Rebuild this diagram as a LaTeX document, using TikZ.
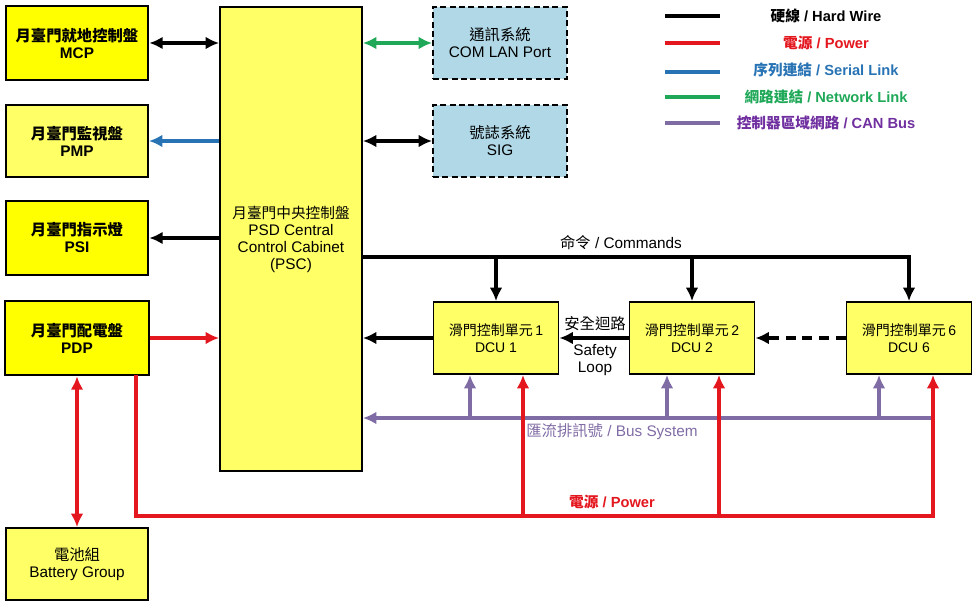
\documentclass[tikz,border=0pt]{standalone}
\usepackage{fontspec}
\setmainfont{Liberation Sans}
\newfontfamily\cjk{Noto Sans CJK TC}
\usetikzlibrary{arrows.meta, positioning}

\definecolor{pwr}{RGB}{228,22,30}
\definecolor{ser}{RGB}{40,115,180}
\definecolor{net}{RGB}{30,168,88}
\definecolor{can}{RGB}{128,108,165}
\definecolor{cantxt}{RGB}{112,48,160}
\definecolor{padyel}{RGB}{255,255,0}
\definecolor{paleyel}{RGB}{255,255,102}
\definecolor{lblue}{RGB}{176,216,230}

\newcommand{\zh}[1]{{\cjk #1}}

\begin{document}
\begin{tikzpicture}[x=0.75pt, y=-0.75pt, >={Latex[length=10pt,width=9.5pt]},
    box/.style={draw, line width=1.4pt, fill=paleyel, align=center, inner sep=1pt,
        font=\fontsize{11.5}{12.75}\selectfont},
    panel/.style={box, fill=padyel, line width=2pt, minimum width=106.5pt, minimum height=55.5pt,
        font=\bfseries\fontsize{11.5}{12.75}\selectfont},
    extbox/.style={box, fill=lblue, dash pattern=on 4.5pt off 2.5pt, minimum width=100.5pt, minimum height=54pt},
    dcubox/.style={box, minimum width=93.75pt, minimum height=54pt, font=\fontsize{10.5}{12.75}\selectfont},
    wire/.style={line width=2.3pt, ->},
    lbl/.style={align=center, inner sep=0pt, font=\fontsize{11.5}{12.75}\selectfont},
    key/.style={align=center, inner sep=0pt, font=\bfseries\fontsize{11}{12}\selectfont}
]
\useasboundingbox (0,0) rectangle (977,606);

% left column
\node(mcp)[panel] at (77,43) {\zh{月臺門就地控制盤}\\MCP};
\node(pmp)[box, minimum width=106.5pt, minimum height=54pt, font=\bfseries\fontsize{11.5}{12.75}\selectfont] at (77,141) {\zh{月臺門監視盤}\\PMP};
\node(psi)[panel] at (77,238) {\zh{月臺門指示燈}\\PSI};
\node(pdp)[panel, minimum width=108pt] at (77,338) {\zh{月臺門配電盤}\\PDP};
\node(bat)[box, minimum width=106.5pt, minimum height=54pt] at (77,564) {\zh{電池組}\\Battery Group};

% central cabinet
\node(psc)[box, minimum width=106.5pt, minimum height=348pt] at (291,239)
    {{\fontsize{11}{12.75}\selectfont\zh{月臺門中央控制盤}}\\PSD Central\\Control Cabinet\\(PSC)};

% external systems
\node(com)[extbox] at (500,43) {\zh{通訊系統}\\COM LAN Port};
\node(sig)[extbox] at (500,141) {\zh{號誌系統}\\SIG};

% door control units
\node(dcu1)[dcubox] at (496,338) {\zh{滑門控制單元}\,1\\DCU 1};
\node(dcu2)[dcubox] at (692,338) {\zh{滑門控制單元}\,2\\DCU 2};
\node(dcu6)[dcubox] at (909,338) {\zh{滑門控制單元}\,6\\DCU 6};

% links to the cabinet
\draw (mcp.east) edge[wire, <->] (mcp.east -| psc.west)
      (pmp.east -| psc.west) edge[wire, ser] (pmp.east)
      (psi.east -| psc.west) edge[wire] (psi.east)
      (pdp.east) edge[wire, pwr] (pdp.east -| psc.west)
      (psc.east |- com.west) edge[wire, net, <->] (com.west)
      (psc.east |- sig.west) edge[wire, <->] (sig.west)
      (dcu1.west) edge[wire] (dcu1.west -| psc.east)
      ;

% commands
\coordinate(cmd) at (362,257);
\draw[wire] (cmd) -| (dcu6.north);
\draw[wire] (dcu1.north |- cmd) -- (dcu1.north);
\draw[wire] (dcu2.north |- cmd) -- (dcu2.north);
\node(cmdlbl)[lbl] at (621,243) {\zh{命令} / Commands};

% safety loop
\draw (dcu2.west) edge[wire] (dcu1.east)
      (dcu6.west) edge[wire, dash pattern=on 7.5pt off 5pt] (dcu2.east);
\node(safety)[lbl] at (595,346) {\zh{安全迴路}\\[7pt]Safety\\Loop};

% bus system
\coordinate(bus1) at (470,418);
\coordinate(bus2) at (667,418);
\coordinate(bus6) at (879,418);
\coordinate(busend) at (933,418);
\draw[wire, can] (busend) -- (busend -| psc.east);
\draw[wire, can] (bus1) -- (bus1 |- dcu1.south);
\draw[wire, can] (bus2) -- (bus2 |- dcu2.south);
\draw[wire, can] (bus6) -- (bus6 |- dcu6.south);
\node(buslbl)[lbl, text=can] at (612,432) {\zh{匯流排訊號} / Bus System};

% power
\coordinate(pwrout) at (136,375);
\coordinate(pwr1) at (523,516);
\coordinate(pwr2) at (719,516);
\coordinate(pwr6) at (933,516);
\draw[wire, pwr] (pwrout) |- (pwr6) -- (pwr6 |- dcu6.south);
\draw[wire, pwr] (pwr1) -- (pwr1 |- dcu1.south);
\draw[wire, pwr] (pwr2) -- (pwr2 |- dcu2.south);
\draw[wire, pwr, <->] (pdp.south) -- (bat.north);
\node(pwrlbl)[lbl, text=pwr, font=\bfseries\fontsize{11}{12}\selectfont] at (612,502) {\zh{電源} / Power};

% legend
\draw[line width=2.6pt] (665,16) -- (720,16);
\draw[line width=2.6pt, pwr] (665,43) -- (720,43);
\draw[line width=2.6pt, ser] (665,72) -- (720,72);
\draw[line width=2.6pt, net] (665,97) -- (720,97);
\draw[line width=2.6pt, can] (665,123) -- (720,123);
\node(keyhw)[key] at (826,16) {\zh{硬線} / Hard Wire};
\node(keypw)[key, text=pwr] at (826,43) {\zh{電源} / Power};
\node(keysl)[key, text=ser] at (826,70) {\zh{序列連結} / Serial Link};
\node(keynl)[key, text=net] at (826,97) {\zh{網路連結} / Network Link};
\node(keycan)[key, text=cantxt] at (826,123) {\zh{控制器區域網路} / CAN Bus};

\end{tikzpicture}
\end{document}
